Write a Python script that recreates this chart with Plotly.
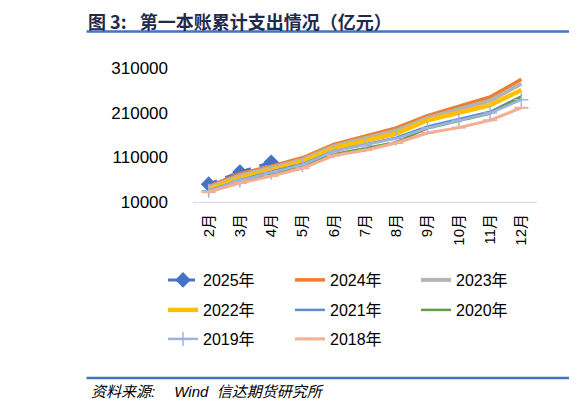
import plotly.graph_objects as go

months = ["2月", "3月", "4月", "5月", "6月", "7月", "8月", "9月", "10月", "11月", "12月"]

y2025 = [50000, 77000, 99000]
y2024 = [45000, 73500, 90000, 109000, 139000, 157500, 176000, 203500, 225000, 245000, 284600]
y2023 = [42000, 69000, 87000, 105000, 135000, 152000, 170000, 198500, 217000, 237000, 274600]
y2022 = [38500, 64000, 82000, 100000, 131000, 147000, 163000, 193000, 209000, 227000, 260600]
y2021 = [35500, 59000, 78000, 95000, 124000, 139000, 154000, 179000, 196000, 212000, 246300]
y2020 = [33500, 55000, 73000, 91000, 117000, 131000, 144000, 175000, 191000, 208000, 245700]
y2019 = [35000, 58000, 76000, 93000, 123500, 137000, 152000, 176000, 193000, 209000, 238900]
y2018 = [32000, 52500, 68000, 85500, 114000, 126000, 142000, 164600, 176500, 193000, 220900]

yticks = [10000, 110000, 210000, 310000]
ytick_text = ["10000", "110000", "210000", "310000"]

series = [
    ("2025年", y2025, dict(color="#4472C4", width=3, dash="dash"),
     dict(symbol="diamond", size=12, color="#4472C4"), "lines+markers"),
    ("2024年", y2024, dict(color="#ED7D31", width=3.5), None, "lines"),
    ("2023年", y2023, dict(color="#B4B4B4", width=4), None, "lines"),
    ("2022年", y2022, dict(color="#FFC000", width=4.5), None, "lines"),
    ("2021年", y2021, dict(color="#5B8FC9", width=2.5), None, "lines"),
    ("2020年", y2020, dict(color="#62A043", width=2.5), None, "lines"),
    ("2019年", y2019, dict(color="#9FB2E2", width=2.5),
     dict(symbol="cross-thin", size=10, line=dict(color="#9FB2E2", width=1.5)), "lines+markers"),
    ("2018年", y2018, dict(color="#F4AE94", width=3),
     dict(symbol="line-ew", size=10, line=dict(color="#F4AE94", width=2)), "lines+markers"),
]

# page body has an 8px margin, so the figure is laid out in its own coords (screen - 8)
OFF = 8
W, H = 577 - OFF, 408 - OFF
PL, PR = 192.6 - OFF, 537.0 - OFF      # plot left/right
PT, PB = 68.3 - OFF, 201.7 - OFF       # plot top/bottom
PW, PH = PR - PL, PB - PT

col_x = [155, 282, 408]
row_y = [280 - OFF, 310 - OFF, 339 - OFF]
leg_font = dict(family="Liberation Sans, Noto Sans CJK SC", size=16, color="#000000")

fig = go.Figure()
legends = {}
for i, (name, vals, line, marker, mode) in enumerate(series):
    key = "legend" if i == 0 else f"legend{i + 1}"
    kw = dict(x=months[:len(vals)], y=vals, name=name, mode=mode, line=line, legend=key)
    if marker is not None:
        kw["marker"] = marker
    fig.add_trace(go.Scatter(**kw))
    r, c = divmod(i, 3)
    legends[key] = dict(orientation="h", xref="container", yref="container",
                        x=col_x[c] / W, y=1 - row_y[r] / H,
                        xanchor="left", yanchor="middle", bgcolor="rgba(0,0,0,0)",
                        font=leg_font)

fig.update_layout(
    width=W, height=H,
    margin=dict(l=PL, r=W - PR, t=PT, b=H - PB, pad=0, autoexpand=False),
    paper_bgcolor="white", plot_bgcolor="white",
    font=dict(family="Liberation Sans, Noto Sans CJK SC", color="#000000"),
    xaxis=dict(type="category", range=[-0.5, 10.5], showgrid=False, showline=True,
               linecolor="#D9D9D9", linewidth=1, ticks="", tickangle=-90,
               ticklabelstandoff=5,
               tickfont=dict(family="Liberation Sans, Noto Sans CJK SC", size=15, color="#000000")),
    yaxis=dict(range=[10000, 310000], tickvals=yticks, ticktext=ytick_text, showgrid=False,
               showline=False, zeroline=False, ticks="", ticklabelstandoff=24,
               tickfont=dict(family="Liberation Sans", size=17, color="#000000")),
    showlegend=True,
    **legends,
)

def px_to_paper_x(px):
    return (px - PL) / PW

def px_to_paper_y(py):
    return (PB - py) / PH

fig.add_annotation(xref="paper", yref="paper", x=px_to_paper_x(86 - OFF), y=px_to_paper_y(0),
                   xanchor="left", yanchor="top", showarrow=False, borderpad=0,
                   text="<b>图 3:\u2002 第一本账累计支出情况（亿元）</b>",
                   font=dict(family="Noto Sans CJK SC", size=18, color="#1F2A4C"))
fig.add_annotation(xref="paper", yref="paper", x=px_to_paper_x(88 - OFF), y=px_to_paper_y(390 - OFF),
                   xanchor="left", yanchor="middle", showarrow=False,
                   text="<i>资料来源:\u3000 Wind  信达期货研究所</i>",
                   font=dict(family="Liberation Sans, Noto Sans CJK SC", size=15, color="#000000"))

for yy in (32 - OFF, 377 - OFF):
    fig.add_shape(type="line", xref="paper", yref="paper",
                  x0=px_to_paper_x(86 - OFF), x1=px_to_paper_x(W + 2),
                  y0=px_to_paper_y(yy), y1=px_to_paper_y(yy),
                  line=dict(color="#4472C4", width=2.5))

fig.write_html("out.html")
